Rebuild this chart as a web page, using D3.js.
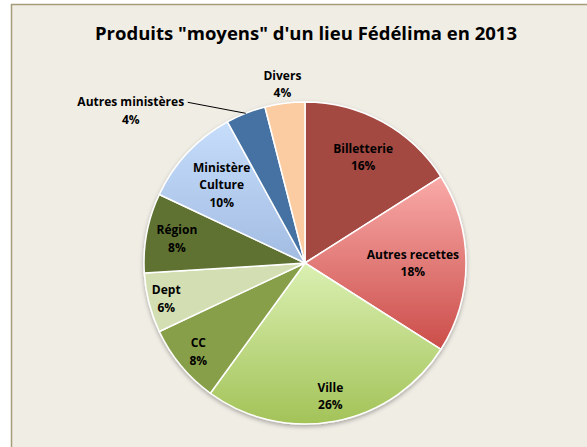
<!DOCTYPE html>
<html>
<head>
<meta charset="utf-8">
<script src="https://cdn.jsdelivr.net/npm/d3@7"></script>
<style>
  body { margin: 0; background: #fff; }
  text { font-family: "Open Sans", Lato, sans-serif; font-weight: bold; fill: #000; }
</style>
</head>
<body>
<svg id="chart1"></svg>
<script>
let w = 587;
let h = 447;

// data, clockwise from 12 o'clock
let categories = ["Billetterie", "Autres recettes", "Ville", "CC", "Dept", "Région", "Ministère Culture", "Autres ministères", "Divers"];
let labelLines = [["Billetterie"], ["Autres recettes"], ["Ville"], ["CC"], ["Dept"], ["Région"], ["Ministère", "Culture"], ["Autres ministères"], ["Divers"]];
let values = [16, 18, 26, 8, 6, 8, 10, 4, 4];

// fill colours: [top, bottom] of each slice
let colors = [
  ["#a44a43", "#a44a43"],
  ["#f9aaa8", "#cb4d49"],
  ["#daf0b2", "#a3c358"],
  ["#889f4a", "#889f4a"],
  ["#d3dfb2", "#d3dfb2"],
  ["#5e7232", "#5e7232"],
  ["#c6ddfb", "#a2bce2"],
  ["#4572a2", "#4572a2"],
  ["#fbcca2", "#fbcca2"]
];

// label distance from centre, as a share of the radius
let labelR = [0.75, 0.67, 0.84, 0.86, 0.89, 0.81, 0.71, 1.0, 1.12];

let cx = 305, cy = 263, r = 161;

let svg = d3.select('#chart1').attr('width', w).attr('height', h);

// chart area
svg.append('rect')
  .attr('x', 11.5).attr('y', 4.5)
  .attr('width', w + 20).attr('height', h + 20)
  .attr('fill', '#f0ede5')
  .attr('stroke', '#a59d7a')
  .attr('stroke-width', 1.5);

svg.append('text')
  .attr('x', 306).attr('y', 40)
  .attr('text-anchor', 'middle')
  .style('font-size', '18.5px')
  .text('Produits "moyens" d\'un lieu Fédélima en 2013');

let defs = svg.append('defs');

let shadow = defs.append('filter').attr('id', 'shadow')
  .attr('x', '-10%').attr('y', '-10%').attr('width', '120%').attr('height', '120%');
shadow.append('feDropShadow')
  .attr('dx', 0).attr('dy', 2).attr('stdDeviation', 2)
  .attr('flood-color', '#000').attr('flood-opacity', 0.3);

colors.forEach((c, i) => {
  let g = defs.append('linearGradient')
    .attr('id', 'grad' + i)
    .attr('x1', 0).attr('y1', 0).attr('x2', 0).attr('y2', 1);
  g.append('stop').attr('offset', '0%').attr('stop-color', c[0]);
  g.append('stop').attr('offset', '100%').attr('stop-color', c[1]);
});

let dataset = categories.map((c, i) => ({ name: c, lines: labelLines[i], value: values[i], i: i }));

let pie = d3.pie().sort(null).value((d) => d.value);
let arc = d3.arc().innerRadius(0).outerRadius(r);
let arcs = pie(dataset);

let g = svg.append('g').attr('transform', `translate(${cx}, ${cy})`);

g.append('g').attr('filter', 'url(#shadow)')
  .selectAll('path')
  .data(arcs)
  .enter()
  .append('path')
  .attr('d', arc)
  .attr('fill', (d) => `url(#grad${d.data.i})`)
  .attr('stroke', '#fff')
  .attr('stroke-width', 1.5)
  .attr('stroke-linejoin', 'round');

let lineH = 17.5;

function labelPos(d) {
  let a = (d.startAngle + d.endAngle) / 2;
  let rr = labelR[d.data.i] * r;
  return [Math.sin(a) * rr, -Math.cos(a) * rr];
}

arcs.forEach((d) => {
  let a = (d.startAngle + d.endAngle) / 2;
  let p = labelPos(d);
  let lines = d.data.lines.concat([d.data.value + '%']);
  if (d.data.name === 'Autres ministères') {
    // label pulled out to the left with a leader line
    let ex = Math.sin(a) * r, ey = -Math.cos(a) * r;
    g.append('path')
      .attr('d', `M${ex},${ey}L${ex - 58},${ey - 11}`)
      .attr('stroke', '#000').attr('fill', 'none').attr('stroke-width', 1);
    p = [ex - 115, ey - 3];
  }
  let top = p[1] - (lines.length - 1) * lineH / 2;
  let t = g.append('text')
    .attr('text-anchor', 'middle')
    .style('font-size', '12px');
  lines.forEach((l, k) => {
    t.append('tspan')
      .attr('x', p[0])
      .attr('y', top + k * lineH + 4.5)
      .text(l);
  });
});
</script>
</body>
</html>
